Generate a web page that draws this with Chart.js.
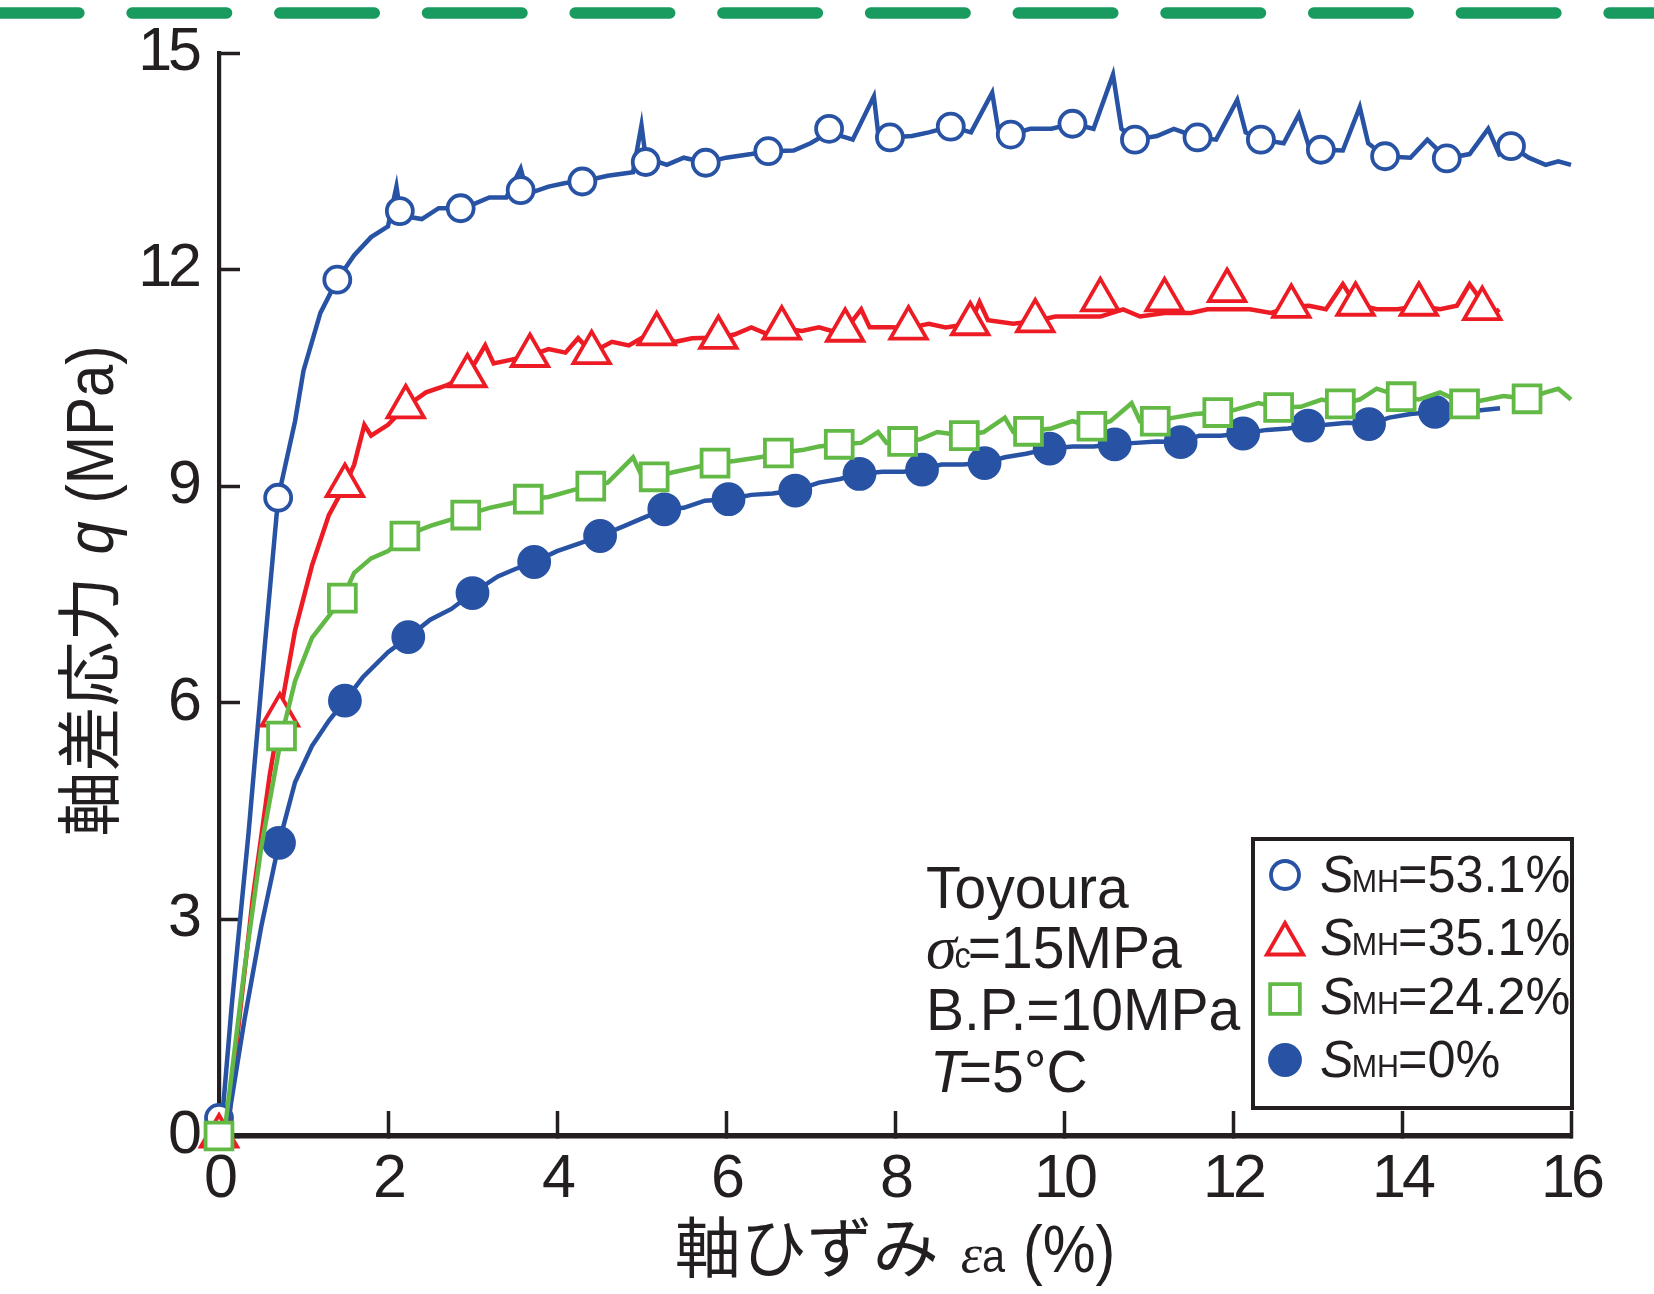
<!DOCTYPE html>
<html><head><meta charset="utf-8">
<script src="https://cdn.jsdelivr.net/npm/chart.js@4.4.1/dist/chart.umd.min.js"></script>
<style>html,body{margin:0;padding:0;background:#fff;overflow:hidden}</style>
</head><body><canvas id="c" width="1654" height="1294"></canvas>
<script>
// ---------- data ----------
const xTicks = [0, 2, 4, 6, 8, 10, 12, 14, 16];
const yTicks = [0, 3, 6, 9, 12, 15];
const legendValues = ['53.1%', '35.1%', '24.2%', '0%'];
const annotationLines = ['Toyoura', '=15MPa', 'B.P.=10MPa', '=5°C'];

// S_MH = 53.1 %  (open circles)
const s531Line = [[0.02,0],[0.15,1.8],[0.35,4.2],[0.55,6.9],[0.7,8.84],[0.9,9.9],[1.0,10.6],[1.2,11.4],[1.4,11.86],[1.6,12.2],[1.8,12.45],[2.0,12.6],[2.1,13.15],[2.15,12.75],[2.4,12.7],[2.6,12.85],[2.86,12.85],[3.0,12.9],[3.2,13.0],[3.4,13.0],[3.57,13.4],[3.65,13.05],[3.9,13.15],[4.1,13.2],[4.3,13.22],[4.6,13.3],[4.9,13.35],[5.0,14.0],[5.05,13.55],[5.3,13.45],[5.5,13.55],[5.76,13.48],[6.0,13.55],[6.3,13.6],[6.5,13.64],[6.8,13.65],[7.0,13.75],[7.22,13.9],[7.5,13.8],[7.75,14.4],[7.8,13.9],[7.94,13.83],[8.2,13.85],[8.4,13.9],[8.66,13.98],[8.9,13.9],[9.15,14.45],[9.22,13.95],[9.37,13.87],[9.6,13.95],[9.85,13.95],[10.1,14.02],[10.35,13.95],[10.58,14.7],[10.68,13.95],[10.84,13.8],[11.1,13.85],[11.3,13.95],[11.58,13.83],[11.8,13.8],[12.05,14.35],[12.15,13.9],[12.33,13.8],[12.6,13.75],[12.78,14.15],[12.9,13.7],[13.04,13.66],[13.3,13.65],[13.5,14.25],[13.6,13.75],[13.8,13.57],[14.1,13.55],[14.3,13.8],[14.53,13.54],[14.8,13.6],[15.02,13.95],[15.15,13.6],[15.29,13.71],[15.5,13.55],[15.7,13.45],[15.85,13.5],[16.0,13.45]];
const s531Marks = [[0,0.25],[0.7,8.84],[1.4,11.86],[2.14,12.81],[2.86,12.85],[3.57,13.1],[4.3,13.22],[5.05,13.49],[5.76,13.48],[6.5,13.64],[7.22,13.95],[7.94,13.83],[8.66,13.98],[9.37,13.87],[10.1,14.02],[10.84,13.8],[11.58,13.83],[12.33,13.8],[13.04,13.66],[13.8,13.57],[14.53,13.54],[15.29,13.71]];

// S_MH = 35.1 %  (open triangles)
const s351Line = [[0.1,0],[0.2,1.2],[0.4,3.3],[0.6,5.0],[0.72,5.83],[0.9,7.0],[1.1,7.9],[1.3,8.6],[1.49,9.01],[1.6,9.3],[1.72,9.85],[1.8,9.7],[2.0,9.85],[2.21,10.1],[2.45,10.3],[2.7,10.4],[2.94,10.53],[3.15,10.95],[3.25,10.7],[3.45,10.75],[3.68,10.81],[3.9,10.9],[4.1,10.85],[4.25,11.05],[4.41,10.85],[4.65,11.0],[4.85,10.95],[5.0,11.05],[5.18,11.11],[5.4,11.0],[5.6,11.05],[5.91,11.06],[6.1,11.1],[6.3,11.2],[6.5,11.1],[6.66,11.19],[6.9,11.15],[7.1,11.2],[7.25,11.15],[7.41,11.16],[7.6,11.45],[7.7,11.2],[7.95,11.2],[8.16,11.19],[8.4,11.25],[8.6,11.2],[8.89,11.25],[9.0,11.55],[9.1,11.3],[9.4,11.25],[9.66,11.29],[9.9,11.35],[10.2,11.35],[10.43,11.35],[10.7,11.45],[10.9,11.35],[11.19,11.4],[11.5,11.4],[11.7,11.45],[11.93,11.45],[12.2,11.45],[12.45,11.4],[12.69,11.49],[12.9,11.5],[13.1,11.45],[13.3,11.8],[13.45,11.52],[13.7,11.45],[13.95,11.45],[14.2,11.5],[14.45,11.45],[14.65,11.5],[14.8,11.8],[14.95,11.55],[15.1,11.4],[15.15,11.45]];
const s351Marks = [[0,0],[0.72,5.83],[1.49,9.01],[2.21,10.1],[2.94,10.53],[3.68,10.81],[4.41,10.85],[5.18,11.11],[5.91,11.06],[6.66,11.19],[7.41,11.16],[8.16,11.19],[8.89,11.25],[9.66,11.29],[10.43,11.58],[11.19,11.58],[11.93,11.71],[12.69,11.49],[13.45,11.52],[14.2,11.52],[14.95,11.46]];

// S_MH = 24.2 %  (open squares)
const s242Line = [[0.06,0],[0.3,2.3],[0.5,4.0],[0.74,5.54],[0.9,6.3],[1.1,6.9],[1.3,7.2],[1.46,7.45],[1.6,7.8],[1.8,8.0],[2.0,8.1],[2.2,8.31],[2.5,8.45],[2.92,8.6],[3.2,8.7],[3.4,8.75],[3.66,8.82],[3.9,8.85],[4.2,8.95],[4.4,9.0],[4.6,9.05],[4.9,9.4],[5.0,9.15],[5.15,9.13],[5.4,9.2],[5.6,9.25],[5.87,9.32],[6.1,9.35],[6.4,9.4],[6.62,9.46],[6.9,9.5],[7.1,9.55],[7.34,9.58],[7.6,9.6],[7.8,9.75],[7.9,9.6],[8.09,9.62],[8.3,9.65],[8.5,9.75],[8.82,9.7],[9.05,9.75],[9.3,9.95],[9.4,9.75],[9.58,9.76],[9.85,9.8],[10.1,9.9],[10.33,9.83],[10.55,9.9],[10.8,10.15],[10.9,9.9],[11.08,9.9],[11.3,9.95],[11.55,10.0],[11.82,10.02],[12.0,10.05],[12.3,10.15],[12.54,10.09],[12.8,10.1],[13.05,10.2],[13.27,10.14],[13.5,10.2],[13.7,10.35],[13.99,10.24],[14.2,10.2],[14.45,10.3],[14.74,10.14],[15.0,10.2],[15.2,10.25],[15.48,10.21],[15.7,10.3],[15.85,10.35],[16.0,10.2]];
const s242Marks = [[0,0],[0.74,5.54],[1.46,7.45],[2.2,8.31],[2.92,8.6],[3.66,8.82],[4.4,9.0],[5.15,9.13],[5.87,9.32],[6.62,9.46],[7.34,9.58],[8.09,9.62],[8.82,9.7],[9.58,9.76],[10.33,9.83],[11.08,9.9],[11.82,10.02],[12.54,10.09],[13.27,10.14],[13.99,10.24],[14.74,10.14],[15.48,10.21]];

// S_MH = 0 %  (filled circles)
const s0Line = [[0.08,0],[0.3,1.6],[0.5,2.9],[0.71,4.06],[0.9,4.9],[1.1,5.4],[1.3,5.75],[1.49,6.03],[1.7,6.35],[2.0,6.7],[2.24,6.91],[2.5,7.15],[2.75,7.3],[3.0,7.52],[3.3,7.75],[3.5,7.85],[3.73,7.95],[4.0,8.1],[4.25,8.2],[4.51,8.31],[4.8,8.45],[5.0,8.55],[5.27,8.68],[5.5,8.7],[5.75,8.8],[6.03,8.82],[6.3,8.88],[6.55,8.9],[6.82,8.94],[7.1,9.05],[7.35,9.1],[7.58,9.17],[7.85,9.2],[8.1,9.2],[8.32,9.23],[8.55,9.3],[8.8,9.3],[9.06,9.32],[9.3,9.4],[9.55,9.45],[9.83,9.52],[10.1,9.55],[10.35,9.55],[10.6,9.58],[10.85,9.6],[11.1,9.62],[11.38,9.61],[11.6,9.7],[11.85,9.7],[12.12,9.73],[12.4,9.78],[12.65,9.8],[12.89,9.84],[13.1,9.85],[13.35,9.88],[13.61,9.86],[13.85,9.95],[14.1,10.0],[14.39,10.03],[14.65,10.05],[14.9,10.05],[15.16,10.08]];
const s0Marks = [[0.71,4.06],[1.49,6.03],[2.24,6.91],[3.0,7.52],[3.73,7.95],[4.51,8.31],[5.27,8.68],[6.03,8.82],[6.82,8.94],[7.58,9.17],[8.32,9.23],[9.06,9.32],[9.83,9.52],[10.6,9.58],[11.38,9.61],[12.12,9.73],[12.89,9.84],[13.61,9.86],[14.39,10.03]];

// ---------- style ----------
const C_BLUE = '#2852a3', C_RED = '#ed1c24', C_GREEN = '#62b946', C_BLACK = '#231f20', C_DASH = '#199a5e';
const SANS = '"Liberation Sans", Arial, sans-serif';
const JP = '"Noto Sans CJK JP", sans-serif';
const SERIF = '"Liberation Serif", serif';

const toXY = a => a.map(p => ({x: p[0], y: p[1]}));
function lineDs(d, color, order) {
  return {data: toXY(d), showLine: true, borderColor: color, borderWidth: 4.5, borderJoinStyle: 'miter', pointRadius: 0, tension: 0, order, clip: false};
}
function markDs(d, color, style, r, filled, order) {
  return {data: toXY(d), showLine: false, pointStyle: style, pointRadius: r, pointBorderWidth: 3.8,
    pointBorderColor: color, pointBackgroundColor: filled ? color : '#ffffff', order, clip: false};
}

function drawRuns(ctx, x, y, runs) {
  let cx = x;
  for (const r of runs) {
    ctx.font = r.f;
    const sx = r.sx || 1;
    const w = ctx.measureText(r.t).width * sx;
    ctx.save(); ctx.translate(cx, y + (r.dy || 0)); ctx.scale(sx, 1); ctx.fillText(r.t, 0, 0); ctx.restore();
    cx += w + (r.gap || 0);
  }
  return cx - x;
}
function runsWidth(ctx, runs) {
  let w = 0;
  for (const r of runs) { ctx.font = r.f; w += ctx.measureText(r.t).width * (r.sx || 1) + (r.gap || 0); }
  return w;
}

const deco = {
  id: 'deco',
  beforeDraw(chart) { chart.ctx.letterSpacing = '-4px'; },
  afterDraw(chart) {
    const ctx = chart.ctx;
    ctx.save();
    ctx.letterSpacing = '0px';
    ctx.fillStyle = C_BLACK;
    ctx.textBaseline = 'alphabetic';
    ctx.textAlign = 'left';
    // top dashed line
    ctx.save();
    ctx.strokeStyle = C_DASH; ctx.lineWidth = 11.5; ctx.lineCap = 'round';
    ctx.setLineDash([94.5, 53.2]);
    ctx.beginPath(); ctx.moveTo(-15.6, 13); ctx.lineTo(1700, 13); ctx.stroke();
    ctx.restore();

    // y title
    const yRuns = [
      {t: '軸差応力', f: `65px ${JP}`, gap: 22},
      {t: 'q', f: `italic 66px ${SANS}`, sx: 0.9, gap: 18},
      {t: '(MPa)', f: `66px ${SANS}`, sx: 0.88}
    ];
    const yw = runsWidth(ctx, yRuns);
    ctx.save(); ctx.translate(90, 591); ctx.rotate(-Math.PI / 2);
    drawRuns(ctx, -yw / 2, 23, yRuns);
    ctx.restore();

    // x title
    const xRuns = [
      {t: '軸ひずみ', f: `66px ${JP}`, gap: 22},
      {t: 'ε', f: `italic 54px ${SERIF}`, gap: 0},
      {t: 'a', f: `46px ${SANS}`, sx: 0.9, gap: 18},
      {t: '(%)', f: `66px ${SANS}`, sx: 0.9}
    ];
    const xw = runsWidth(ctx, xRuns);
    drawRuns(ctx, 895 - xw / 2, 1272, xRuns);

    // annotation
    const ax = 926, f60 = `60px ${SANS}`;
    drawRuns(ctx, ax, 908, [{t: annotationLines[0], f: f60, sx: 0.95}]);
    drawRuns(ctx, ax, 968, [{t: 'σ', f: `italic 62px ${SERIF}`, gap: -2}, {t: 'c', f: `36px ${SANS}`, sx: 0.9, gap: -3}, {t: annotationLines[1], f: f60, sx: 0.95}]);
    drawRuns(ctx, ax, 1030, [{t: annotationLines[2], f: f60, sx: 0.95}]);
    drawRuns(ctx, ax + 4, 1092, [{t: 'T', f: `italic 60px ${SANS}`, sx: 0.95, gap: -6}, {t: annotationLines[3], f: f60, sx: 0.95}]);

    // legend
    ctx.save();
    ctx.strokeStyle = C_BLACK; ctx.lineWidth = 4;
    ctx.fillStyle = '#ffffff';
    ctx.fillRect(1253, 839, 319, 269);
    ctx.strokeRect(1253, 839, 319, 269);
    ctx.restore();
    const legMarks = [
      {style: 'circle', r: 14, color: C_BLUE, fill: false, y: 875},
      {style: 'triangle', r: 21, color: C_RED, fill: false, y: 944},
      {style: 'rect', r: 21, color: C_GREEN, fill: false, y: 999},
      {style: 'circle', r: 15, color: C_BLUE, fill: true, y: 1060}
    ];
    const baselines = [892, 955, 1014, 1077];
    legMarks.forEach((m, i) => {
      ctx.save();
      ctx.lineWidth = 3.8; ctx.strokeStyle = m.color; ctx.fillStyle = m.fill ? m.color : '#ffffff';
      Chart.helpers.drawPoint(ctx, {pointStyle: m.style, radius: m.r, borderWidth: 3.8, rotation: 0}, 1285, m.y);
      ctx.restore();
      ctx.fillStyle = C_BLACK;
      drawRuns(ctx, 1320, baselines[i], [
        {t: 'S', f: `italic 52px ${SANS}`, sx: 0.97, gap: -2},
        {t: 'MH', f: `32px ${SANS}`, sx: 0.95, gap: -1},
        {t: '=' + legendValues[i], f: `52px ${SANS}`, sx: 0.97}
      ]);
    });
    ctx.restore();
  }
};

new Chart(document.getElementById('c'), {
  type: 'scatter',
  data: {datasets: [
    markDs(s242Marks, C_GREEN, 'rect', 19, false, 0),
    lineDs(s242Line, C_GREEN, 1),
    markDs(s0Marks, C_BLUE, 'circle', 15, true, 2),
    lineDs(s0Line, C_BLUE, 3),
    markDs(s351Marks, C_RED, 'triangle', 21, false, 4),
    lineDs(s351Line, C_RED, 5),
    markDs(s531Marks, C_BLUE, 'circle', 13, false, 6),
    lineDs(s531Line, C_BLUE, 7)
  ]},
  options: {
    responsive: false, animation: false, devicePixelRatio: 1,
    layout: {padding: {top: 53, right: 83, left: 0, bottom: 0}},
    plugins: {legend: {display: false}, tooltip: {enabled: false}},
    scales: {
      x: {
        type: 'linear', position: 'bottom', min: 0, max: 16,
        afterBuildTicks: s => { s.ticks = xTicks.map(v => ({value: v})); },
        afterFit: s => { s.height = 158; s.paddingLeft = 0; s.paddingRight = 0; },
        grid: {display: true, drawOnChartArea: false, drawTicks: true, tickLength: -25, tickWidth: 3.5, tickColor: C_BLACK},
        border: {display: true, width: 5.5, color: C_BLACK},
        ticks: {font: {family: SANS, size: 61}, color: C_BLACK, padding: 33, maxRotation: 0, autoSkip: false}
      },
      y: {
        type: 'linear', position: 'left', min: 0, max: 15,
        afterBuildTicks: s => { s.ticks = yTicks.map(v => ({value: v})); },
        afterFit: s => { s.width = 219; s.paddingTop = 0; s.paddingBottom = 0; },
        grid: {display: true, drawOnChartArea: false, drawTicks: true, tickLength: -21, tickWidth: 3.5, tickColor: C_BLACK},
        border: {display: true, width: 4.2, color: C_BLACK},
        ticks: {font: {family: SANS, size: 61}, color: C_BLACK, padding: 42, autoSkip: false}
      }
    }
  },
  plugins: [deco]
});
</script>
</body></html>
